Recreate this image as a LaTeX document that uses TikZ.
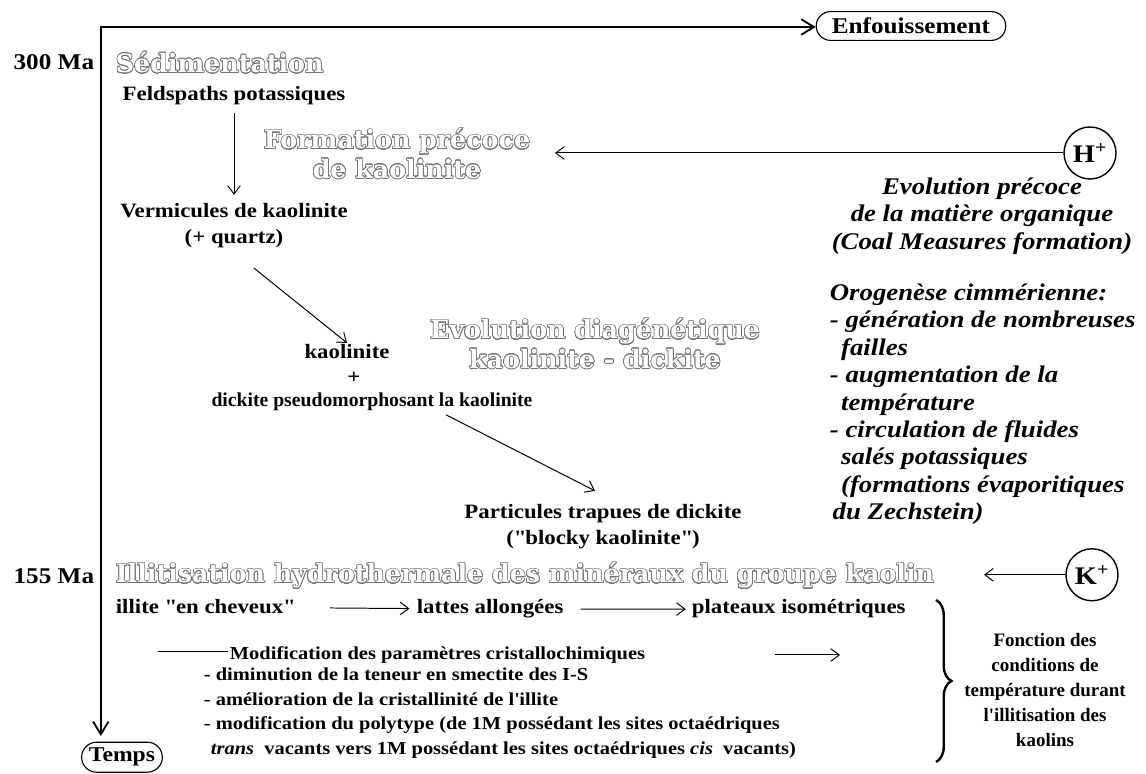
\documentclass[tikz,border=0pt]{standalone}
\usepackage{fontspec}
\setmainfont{Liberation Serif}[FakeStretch=1.12]
\newfontfamily\hollowfont{DejaVu Serif}
\newfontfamily\narrowfont{Liberation Serif}
\usepackage{contour}
\contourlength{0.45pt}
\contournumber{24}
\usetikzlibrary{shapes.misc,arrows.meta,decorations.pathreplacing}

\newcommand{\hol}[1]{\contour{black!55}{\textcolor{white}{#1}}}

\tikzset{
  lbl/.style={font=\bfseries\fontsize{14.5}{18.5}\selectfont, inner sep=1pt, align=center},
  small/.style={font=\bfseries\fontsize{13}{17.5}\selectfont, inner sep=1pt},
  note/.style={font=\bfseries\itshape\fontsize{17}{19.5}\selectfont, inner sep=1pt},
  phase/.style={font=\hollowfont\bfseries\fontsize{18}{21}\selectfont, inner sep=1pt, align=center},
  ion/.style={circle, draw, line width=1pt, minimum size=1.3cm, inner sep=0pt, font=\bfseries\fontsize{18}{20}\selectfont},
  pill/.style={rounded rectangle, draw, line width=0.8pt, font=\bfseries\fontsize{16}{18}\selectfont, inner xsep=3pt, inner ysep=3pt}
}

\begin{document}
\begin{tikzpicture}[>={Straight Barb[length=6pt, width=9pt]}, line width=0.7pt]
	\useasboundingbox (0,0) rectangle (28.65,19.35); % Page frame
	\coordinate (o) at (2.52,18.675); % Corner of the axes
	\coordinate (tend) at (2.52,0.95); % End of time axis
	\node[pill, minimum width=4.95cm, minimum height=0.72cm] (enf) at (22.775,18.7) {Enfouissement};
	\node[pill, font=\bfseries\fontsize{15}{17}\selectfont, minimum height=0.75cm] (temps) at (3.05,0.42) {Temps};
	\draw[{Straight Barb[length=9pt, width=11pt]}-{Straight Barb[length=9pt, width=11pt]}, line width=1.3pt] (tend) -- (o) -- (o -| enf.west); % Axes
	\node[lbl, anchor=east, font=\bfseries\fontsize{16}{18}\selectfont] (ma300) at (2.4,17.8) {300 Ma};
	\node[lbl, anchor=east, font=\bfseries\fontsize{16}{18}\selectfont] (ma155) at (2.4,4.95) {155 Ma};
	% Sedimentation
	\node[phase, anchor=west] (sed) at (2.85,17.775) {\hol{Sédimentation}};
	\node[lbl] (feld) at (5.85,16.95) {Feldspaths potassiques};
	\node[lbl] (verm) at (5.85,13.7) {Vermicules de kaolinite\\(+ quartz)};
	\draw[->, shorten <=4pt, shorten >=5pt] (feld) -- (verm);
	\node[phase] (form) at (9.925,15.5) {\hol{Formation précoce}\\\hol{de kaolinite}};
	\node[ion] (hplus) at (27.25,15.525) {H\textsuperscript{+}};
	\coordinate (hend) at (13.875,15.525);
	\draw[->] (hplus) -- (hend);
	\node[note, align=center] (evol) at (24.55,13.95) {Evolution précoce\\de la matière organique\\(Coal Measures formation)};
	% Diagenese
	\node[lbl] (kaol) at (8.675,10.55) {kaolinite};
	\node[lbl] (plus) at (8.85,9.9) {+};
	\node[lbl, font=\narrowfont\bfseries\fontsize{14}{16}\selectfont] (dick) at (9.3,9.3) {dickite pseudomorphosant la kaolinite};
	\draw[->] ([shift={(0.5,-0.45)}]verm.south) -- (kaol.north);
	\node[phase] (diag) at (14.875,10.75) {\hol{Evolution diagénétique}\\\hol{kaolinite - dickite}};
	\node[lbl] (part) at (15.075,6.175) {Particules trapues de dickite\\(\textquotedbl blocky kaolinite\textquotedbl)};
	\draw[->] ([xshift=1.85cm, yshift=-0.05cm]dick.south) -- ([xshift=-0.2cm, yshift=0.3cm]part.north);
	\node[note, anchor=north west, align=left] (oro) at (20.7,12.3) {Orogenèse cimmérienne:\\- génération de nombreuses\\\hspace*{8pt}failles\\- augmentation de la\\\hspace*{8pt}température\\- circulation de fluides\\\hspace*{8pt}salés potassiques\\\hspace*{8pt}(formations évaporitiques\\\hspace*{2pt}du Zechstein)};
	% Illitisation
	\node[phase, anchor=west] (illit) at (2.85,4.95) {\hol{Illitisation hydrothermale des minéraux du groupe kaolin}};
	\node[ion] (kplus) at (27.3,4.98) {K\textsuperscript{+}};
	\coordinate (kend) at (24.6,4.98);
	\draw[->] (kplus) -- (kend);
	\node[lbl, anchor=base west] (chev) at (2.85,4.0) {illite \textquotedbl en cheveux\textquotedbl};
	\node[lbl, anchor=base west] (lattes) at (10.375,4.0) {lattes allongées};
	\node[lbl, anchor=base west] (plat) at (17.25,4.0) {plateaux isométriques};
	\draw[->, shorten <=24pt, shorten >=4pt] (chev) -- (lattes);
	\draw[->, shorten <=11pt, shorten >=3pt] (lattes) -- (plat);
	\node[small, anchor=west] (modif) at (5.7,2.975) {Modification des paramètres cristallochimiques};
	\coordinate (mstart) at (3.95,3.05);
	\draw (mstart) -- (mstart -| modif.west);
	\coordinate (ma) at (19.375,2.975);
	\coordinate (mb) at (21.0,2.975);
	\draw[->] (ma) -- (mb);
	\node[small, anchor=north west, align=left] (list) at (5.05,2.7) {- diminution de la teneur en smectite des I-S\\- amélioration de la cristallinité de l\textquotesingle illite\\- modification du polytype (de 1M possédant les sites octaédriques\\\hspace*{5pt}\textit{trans}\ \ vacants vers 1M possédant les sites octaédriques \textit{cis}\ \ vacants)};
	\draw[decorate, decoration={brace, amplitude=11pt}, line width=1.7pt] (23.4,4.35) -- (23.4,0.3); % Brace
	\node[lbl, font=\narrowfont\bfseries\fontsize{13.5}{17.8}\selectfont] (fonct) at (26.125,2.1) {Fonction des\\conditions de\\température durant\\l\textquotesingle illitisation des\\kaolins};
\end{tikzpicture}
\end{document}
